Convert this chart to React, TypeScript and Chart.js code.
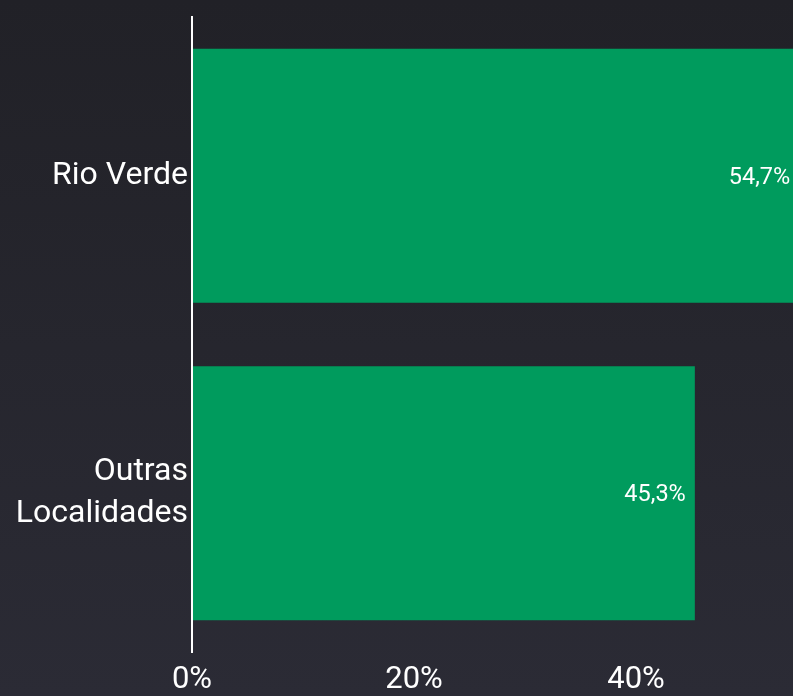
import React, { useEffect, useRef } from "react";
import { Chart, registerables } from "chart.js";

Chart.register(...registerables);

const categories: (string | string[])[] = ["Rio Verde", ["Outras", "Localidades"]];
const values: number[] = [54.7, 45.3];
const valueLabels: string[] = ["54,7%", "45,3%"];
const xTickValues: number[] = [0, 20, 40, 60];

const FONT = "Roboto, 'Noto Sans', sans-serif";

const labelPlugin = {
  id: "customLabels",
  afterDatasetsDraw(chart: any) {
    const ctx = chart.ctx;
    const meta = chart.getDatasetMeta(0);
    ctx.save();
    ctx.fillStyle = "#ffffff";
    ctx.font = `23.5px ${FONT}`;
    ctx.textAlign = "right";
    ctx.textBaseline = "middle";
    meta.data.forEach((bar: any, i: number) => {
      ctx.fillText(valueLabels[i], bar.x - 9, bar.y + 2);
    });
    ctx.restore();
  },
};

export default function App() {
  const ref = useRef<HTMLCanvasElement | null>(null);
  useEffect(() => {
    if (!ref.current) return;
    const chart = new Chart(ref.current, {
      type: "bar",
      data: {
        labels: categories,
        datasets: [
          {
            data: values,
            backgroundColor: "#009b5d",
            borderWidth: 0,
            barPercentage: 1,
            categoryPercentage: 0.8,
          },
        ],
      },
      options: {
        indexAxis: "y",
        animation: false,
        responsive: true,
        maintainAspectRatio: false,
        layout: { padding: { top: 17, right: 42, bottom: 0, left: 0 } },
        plugins: { legend: { display: false }, tooltip: { enabled: false } },
        scales: {
          x: {
            min: 0,
            max: 60,
            afterBuildTicks(scale: any) {
              scale.ticks = xTickValues.map((v) => ({ value: v }));
            },
            ticks: {
              color: "#ffffff",
              font: { family: FONT, size: 31 },
              padding: 10,
              maxRotation: 0,
              callback: (v: any) => `${v}%`,
            },
            grid: { display: false, drawTicks: false },
            border: { display: false },
            afterFit(scale: any) {
              scale.height = 44;
              scale.paddingLeft = 0;
              scale.paddingRight = 0;
            },
          },
          y: {
            ticks: {
              color: "#ffffff",
              font: { family: FONT, size: 32, lineHeight: 1.3 },
              padding: 4,
            },
            grid: { display: false, drawTicks: false, z: 1 },
            border: { display: true, color: "#ffffff", width: 2, z: 1 },
            afterFit(scale: any) {
              scale.width = 192;
              scale.paddingTop = 0;
              scale.paddingBottom = 0;
            },
          },
        },
      },
      plugins: [labelPlugin],
    });
    return () => chart.destroy();
  }, []);

  return (
    <div
      style={{
        position: "fixed",
        left: 0,
        top: 0,
        width: 793,
        height: 696,
        overflow: "hidden",
        background: "linear-gradient(180deg, #212127 0%, #2b2b35 100%)",
      }}
    >
      <div style={{ position: "relative", width: 900, height: 696 }}>
        <canvas ref={ref} />
      </div>
    </div>
  );
}
